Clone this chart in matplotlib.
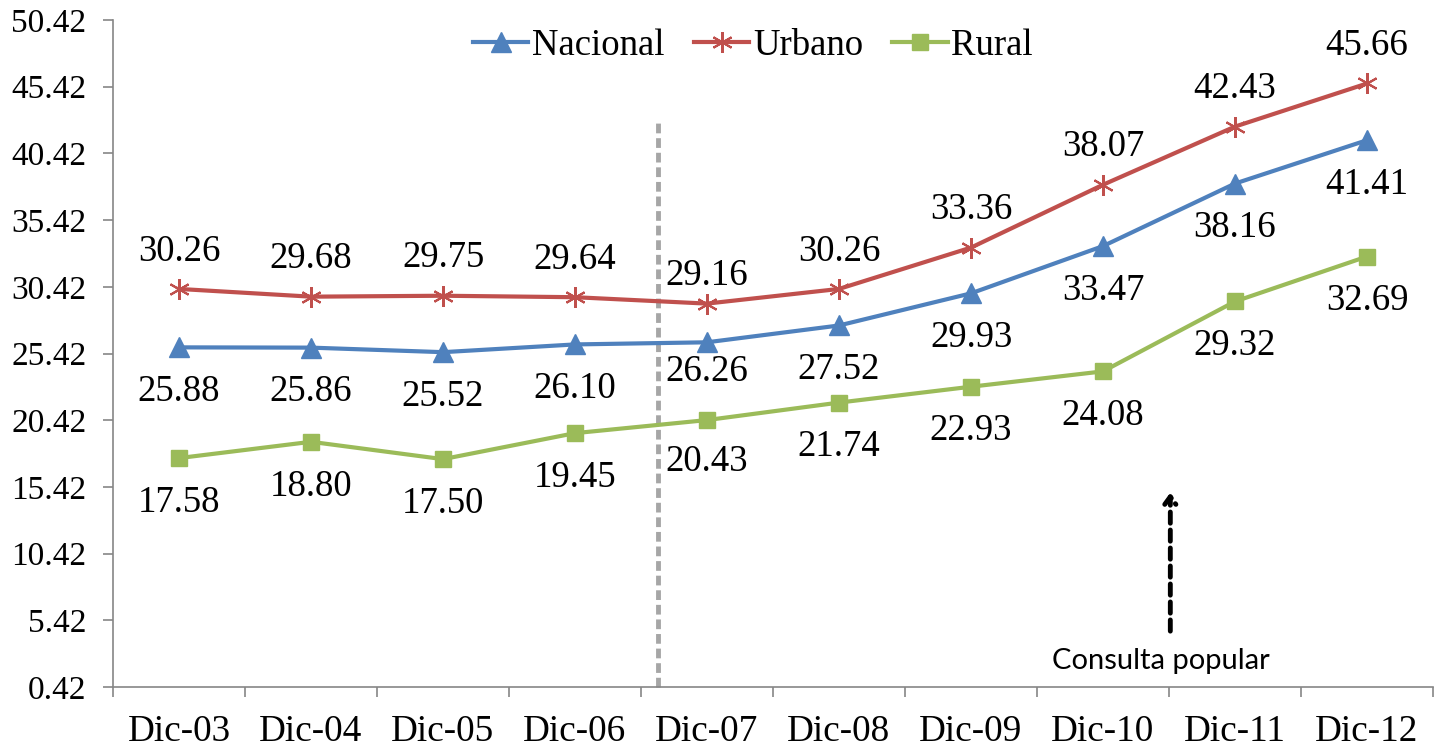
import matplotlib
matplotlib.use("Agg")
import matplotlib.pyplot as plt
import numpy as np
from matplotlib.ticker import FixedLocator

categories = ["Dic-03", "Dic-04", "Dic-05", "Dic-06", "Dic-07",
              "Dic-08", "Dic-09", "Dic-10", "Dic-11", "Dic-12"]
nacional = [25.88, 25.86, 25.52, 26.10, 26.26, 27.52, 29.93, 33.47, 38.16, 41.41]
urbano = [30.26, 29.68, 29.75, 29.64, 29.16, 30.26, 33.36, 38.07, 42.43, 45.66]
rural = [17.58, 18.80, 17.50, 19.45, 20.43, 21.74, 22.93, 24.08, 29.32, 32.69]
yticks = [0.42, 5.42, 10.42, 15.42, 20.42, 25.42, 30.42, 35.42, 40.42, 45.42, 50.42]

plt.rcParams['font.family'] = ['Liberation Serif', 'DejaVu Serif']

fig = plt.figure(figsize=(14.36, 7.48), dpi=100)
ax = fig.add_axes([113/1436, 1-687/748, (1433-113)/1436, (687-20)/748])

x = np.arange(len(categories))
blue, red, green = "#4F81BD", "#C0504D", "#9BBB59"

ax.plot(x, nacional, color=blue, lw=3, marker='^', ms=14, label="Nacional", zorder=3)
ax.plot(x, urbano, color=red, lw=3, marker=(6, 2, 0), ms=15, mew=1.5, label="Urbano", zorder=3)
ax.plot(x, rural, color=green, lw=3, marker='s', ms=12, label="Rural", zorder=3)

ax.set_xlim(-0.5, len(categories) - 0.5)
ax.set_ylim(0.42, 50.42)
ax.set_yticks(yticks)
ax.set_yticklabels([f"{v:.2f}" for v in yticks], fontsize=24)

ax.xaxis.set_major_locator(FixedLocator(np.arange(-0.5, len(categories), 1.0)))
ax.xaxis.set_major_formatter(matplotlib.ticker.NullFormatter())
ax.xaxis.set_minor_locator(FixedLocator(x))
ax.set_xticklabels(categories, minor=True, fontsize=26.8)
ax.tick_params(axis='x', which='major', length=7, width=1.2, color="#868686", direction='out')
ax.tick_params(axis='x', which='minor', length=0, pad=20)
ax.tick_params(axis='y', length=7, width=1.2, color="#868686", pad=12)

for s in ['top', 'right']:
    ax.spines[s].set_visible(False)
for s in ['left', 'bottom']:
    ax.spines[s].set_color("#868686")
    ax.spines[s].set_linewidth(1.2)

fs = 26.5
for i in range(len(categories)):
    up = 27 if i != 4 else 20
    dn = 32 if i != 4 else 21
    dnr = 32 if i != 4 else 30
    ax.annotate(f"{urbano[i]:.2f}", (x[i], urbano[i]), xytext=(0, up), textcoords='offset points',
                ha='center', va='center', fontsize=fs)
    ax.annotate(f"{nacional[i]:.2f}", (x[i], nacional[i]), xytext=(0, -dn), textcoords='offset points',
                ha='center', va='center', fontsize=fs)
    ax.annotate(f"{rural[i]:.2f}", (x[i], rural[i]), xytext=(0, -dnr), textcoords='offset points',
                ha='center', va='center', fontsize=fs)

# vertical dashed separator
ax.plot([3.63, 3.63], [0.42, 42.8], color="#A6A6A6", lw=3.5, ls=(0, (2, 1)), zorder=2, clip_on=False)

# arrow "Consulta popular"
ax.annotate("", xy=(7.51, 15.2), xytext=(7.51, 4.4),
            arrowprops=dict(arrowstyle='->, head_width=0.4, head_length=0.55', color='black',
                            lw=3.5, ls=(0, (2.3, 1.4))))
ax.text(7.44, 2.4, "Consulta popular", ha='center', va='center', fontsize=21, family=['Lato', 'DejaVu Sans'])

leg = fig.legend(loc='center', bbox_to_anchor=(753/1436, 1-46/748), ncol=3, frameon=False,
                 fontsize=26.5, handlelength=1.5, handletextpad=0.1, columnspacing=0.8)

fig.savefig("out.png", dpi=100)
